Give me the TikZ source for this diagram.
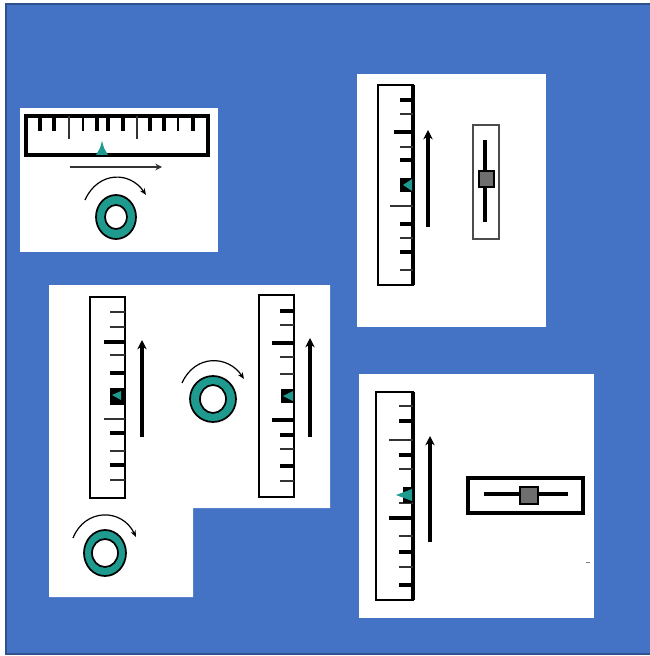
\documentclass[tikz,border=0pt]{standalone}
\usetikzlibrary{arrows.meta}
\definecolor{panelblue}{HTML}{4472C4}
\definecolor{edgeblue}{HTML}{2F528F}
\definecolor{ringteal}{HTML}{1F9A8F}
\definecolor{knobgray}{HTML}{6E6E6E}
\tikzset{
	panel/.style = {fill = white, draw = none},
	rulerline/.style = {line width = 2pt},
	rulerback/.style = {line width = 2.6pt},
	thicktick/.style = {line width = 2.4pt},
	thintick/.style = {line width = 1.3pt, black!80},
	movearrow/.style = {line width = 2.4pt, -{Stealth[length = 7pt, width = 7pt]}},
	turnarc/.style = {line width = 0.9pt, -{Stealth[length = 5pt, width = 4pt]}},
	knob/.style = {fill = knobgray, draw = black, line width = 2pt},
	ringedge/.style = {draw = black, line width = 1.3pt}
}
\begin{document}
\begin{tikzpicture}[x = 0.75pt, y = -0.75pt]
	\useasboundingbox (0,0) rectangle (649,656);
	\draw [fill = panelblue, draw = edgeblue, line width = 0.8pt] (6,4) rectangle (652,654);
	% white panels
	\fill [panel] (20,108) rectangle (218,252);
	\fill [panel] (357,74) rectangle (546,327);
	\fill [panel] (359,374) rectangle (594,618);
	\fill [panel] (49,285) -- (330,285) -- (330,508) -- (193,508) -- (193,597) -- (49,597) -- cycle;
	% horizontal ruler
	\draw [line width = 2.4pt] (26,116) rectangle (208,155);
	\foreach \x/\w in {40/2.4,54/2.4,83/1.3,97/2.4,108/2.4,123/2.4,150/2.4,164/2.4,178/1.3,193/2.4}
		\draw [line width = \w pt] (\x,116) -- (\x,131);
	\foreach \x in {69,137}
		\draw [thintick] (\x,116) -- (\x,139);
	\fill [ringteal] (96,155) -- (100,148) -- (102,141) -- (104,148) -- (108,155) -- cycle;
	\draw [line width = 1.3pt, black!80, -{Stealth[length = 5pt, width = 5pt]}] (70,167) -- (162,167);
	\draw [turnarc] (85,200) .. controls (98,171) and (130,171) .. (146,195);
	\draw [fill = ringteal, ringedge] (116,217) ellipse (20 and 22);
	\draw [fill = white, ringedge] (116,217) ellipse (11 and 12);
	% ruler and slider, upper right
	\draw [rulerline] (378,85) rectangle (413,285);
	\draw [rulerback] (413,85) -- (413,285);
	\foreach \y in {100,132,160,224,252}
		\draw [thicktick] (400,\y) -- (413,\y);
	\foreach \y in {114,147,238,270}
		\draw [thintick] (400,\y) -- (413,\y);
	\draw [thicktick] (394,132) -- (413,132);
	\draw [thintick] (390,206) -- (413,206);
	\fill (400,178) rectangle (412,192);
	\fill [ringteal] (403,185) -- (412,179) -- (412,191) -- cycle;
	\draw [movearrow] (428,227) -- (428,130);
	\draw [line width = 1.4pt, black!70] (473,125) rectangle (499,239);
	\draw [line width = 2.4pt] (485,140) -- (485,222);
	\draw [knob] (479,171) rectangle (494,187);
	% two rulers with rings
	\draw [rulerline] (90,297) rectangle (125,498);
	\foreach \y in {373,433,465}
		\draw [thicktick] (110,\y) -- (125,\y);
	\foreach \y in {312,327,355,451,480}
		\draw [thintick] (110,\y) -- (125,\y);
	\draw [thicktick] (104,342) -- (125,342);
	\draw [thintick] (104,419) -- (125,419);
	\fill (110,388) rectangle (124,405);
	\fill [ringteal] (112,395) -- (121,391) -- (121,400) -- cycle;
	\draw [movearrow] (142,437) -- (142,340);
	\draw [rulerline] (259,295) rectangle (294,497);
	\foreach \y in {311,435,466}
		\draw [thicktick] (280,\y) -- (294,\y);
	\foreach \y in {325,357,374,449,481}
		\draw [thintick] (280,\y) -- (294,\y);
	\draw [thicktick] (272,343) -- (294,343);
	\draw [thicktick] (272,420) -- (294,420);
	\fill (281,389) rectangle (293,403);
	\fill [ringteal] (283,396) -- (293,391) -- (293,401) -- cycle;
	\draw [movearrow] (310,437) -- (310,338);
	\draw [turnarc] (182,383) .. controls (195,354) and (228,355) .. (244,379);
	\draw [fill = ringteal, ringedge] (213,399) ellipse (23 and 23);
	\draw [fill = white, ringedge] (213,399) ellipse (13 and 14);
	\draw [turnarc] (73,538) .. controls (85,508) and (122,508) .. (136,537);
	\draw [fill = ringteal, ringedge] (105,553) ellipse (21 and 23);
	\draw [fill = white, ringedge] (105,553) ellipse (13 and 14);
	% ruler and slider, lower right
	\draw [rulerline] (376,392) rectangle (413,600);
	\draw [rulerback] (413,392) -- (413,600);
	\foreach \y in {421,455,552,585}
		\draw [thicktick] (399,\y) -- (413,\y);
	\foreach \y in {406,469,503,536,567}
		\draw [thintick] (399,\y) -- (413,\y);
	\draw [thintick] (389,440) -- (413,440);
	\draw [thicktick] (389,518) -- (413,518);
	\fill (403,487) rectangle (412,503);
	\fill [ringteal] (396,495) -- (412,489) -- (412,501) -- cycle;
	\draw [movearrow] (430,542) -- (430,436);
	\draw [line width = 2.6pt] (468,478) rectangle (583,513);
	\draw [line width = 2.4pt] (484,494) -- (568,494);
	\draw [knob] (520,487) rectangle (538,504);
	\draw [gray, line width = 0.7pt] (586,562) -- (590,562);
\end{tikzpicture}
\end{document}
